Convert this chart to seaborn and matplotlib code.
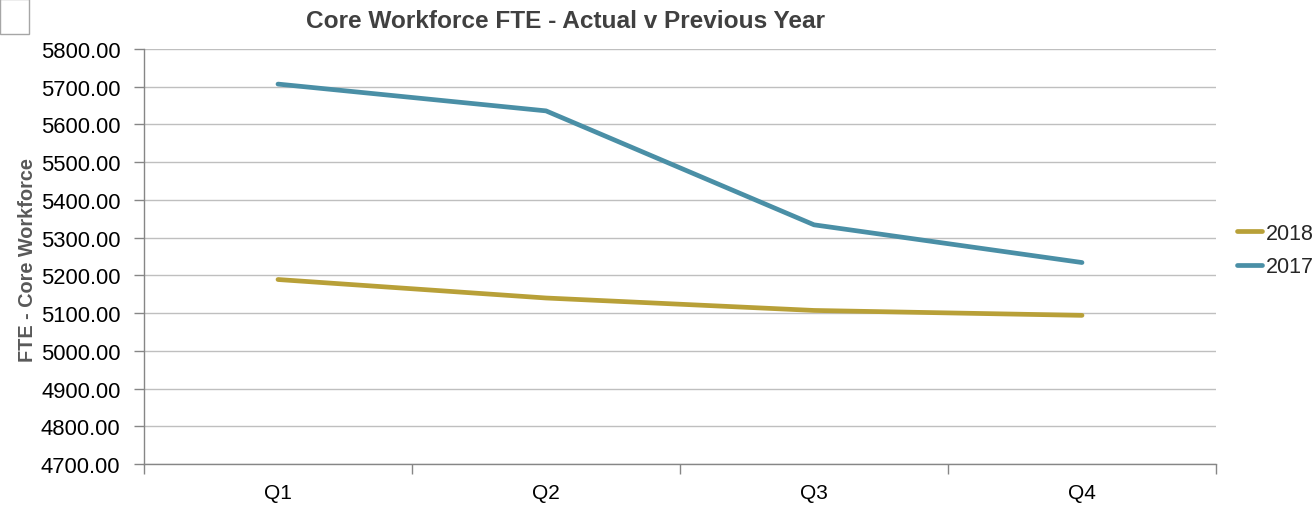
import matplotlib
matplotlib.use("Agg")
import matplotlib.pyplot as plt
import seaborn as sns
import pandas as pd
from matplotlib.patches import Rectangle
from matplotlib.lines import Line2D
from matplotlib.ticker import FormatStrFormatter

quarters = ["Q1", "Q2", "Q3", "Q4"]
fte_2018 = [5189, 5140, 5107, 5094]
fte_2017 = [5707, 5636, 5334, 5234]
series_names = ["2018", "2017"]

df = pd.DataFrame({
    "Quarter": quarters * 2,
    "FTE": fte_2018 + fte_2017,
    "Year": [series_names[0]] * 4 + [series_names[1]] * 4,
})

sns.set_style("white")
plt.rcParams["font.family"] = ["Liberation Sans", "DejaVu Sans"]

W, H = 1316, 506
fig = plt.figure(figsize=(W / 100, H / 100), dpi=100)
ax = fig.add_axes([144 / W, 1 - 465 / H, (1216 - 144) / W, (465 - 50) / H])

palette = {"2018": "#B8A038", "2017": "#4A8FA6"}
sns.lineplot(data=df, x="Quarter", y="FTE", hue="Year", palette=palette,
             linewidth=3.4, ax=ax, sort=False, legend=False,
             solid_capstyle="round")

ax.set_xlim(-0.5, 3.5)
ax.set_ylim(4700, 5800)
ax.set_yticks(range(4700, 5801, 100))
ax.yaxis.set_major_formatter(FormatStrFormatter("%.2f"))
ax.set_xticks(range(4))
ax.set_xticklabels(quarters)
ax.set_xticks([-0.5, 0.5, 1.5, 2.5, 3.5], minor=True)
ax.tick_params(axis="x", which="major", bottom=True, length=0, pad=14, labelsize=15, colors="black")
ax.tick_params(axis="x", which="minor", bottom=True, length=7, width=1, color="#868686", direction="out")
ax.tick_params(axis="y", left=True, length=7, width=1, color="#868686", direction="out",
               labelsize=15.8, pad=10, labelcolor="black")
ax.grid(axis="y", color="#BFBFBF", linewidth=1)
ax.set_axisbelow(True)
for s in ["top", "right"]:
    ax.spines[s].set_visible(False)
for s in ["left", "bottom"]:
    ax.spines[s].set_color("#868686")
    ax.spines[s].set_linewidth(1)
ax.set_xlabel("")
ax.set_ylabel("")
fig.text(28 / W, 1 - 260 / H, "FTE - Core Workforce", rotation=90, ha="center", va="center",
         fontsize=14.3, fontweight="bold", color="#595959")

fig.text(566 / W, 1 - 22 / H, "Core Workforce FTE - Actual v Previous Year",
         ha="center", va="center", fontsize=17.6, fontweight="bold", color="#404040")

# legend
handles = [Line2D([0], [0], color=palette[n], linewidth=3.4, solid_capstyle="round") for n in series_names]
leg = fig.legend(handles, series_names, loc="center left",
                 bbox_to_anchor=(1237 / W, 1 - 251 / H), frameon=False,
                 borderpad=0, borderaxespad=0,
                 fontsize=15.5, handlelength=1.15, handletextpad=0.17, labelspacing=0.6)

# small box at top-left
fig.patches.append(Rectangle((0, 1 - 35 / H), 29 / W, 35 / H, transform=fig.transFigure,
                             facecolor="white", edgecolor="#A6A6A6", linewidth=1))

fig.savefig("out.png", dpi=100)
